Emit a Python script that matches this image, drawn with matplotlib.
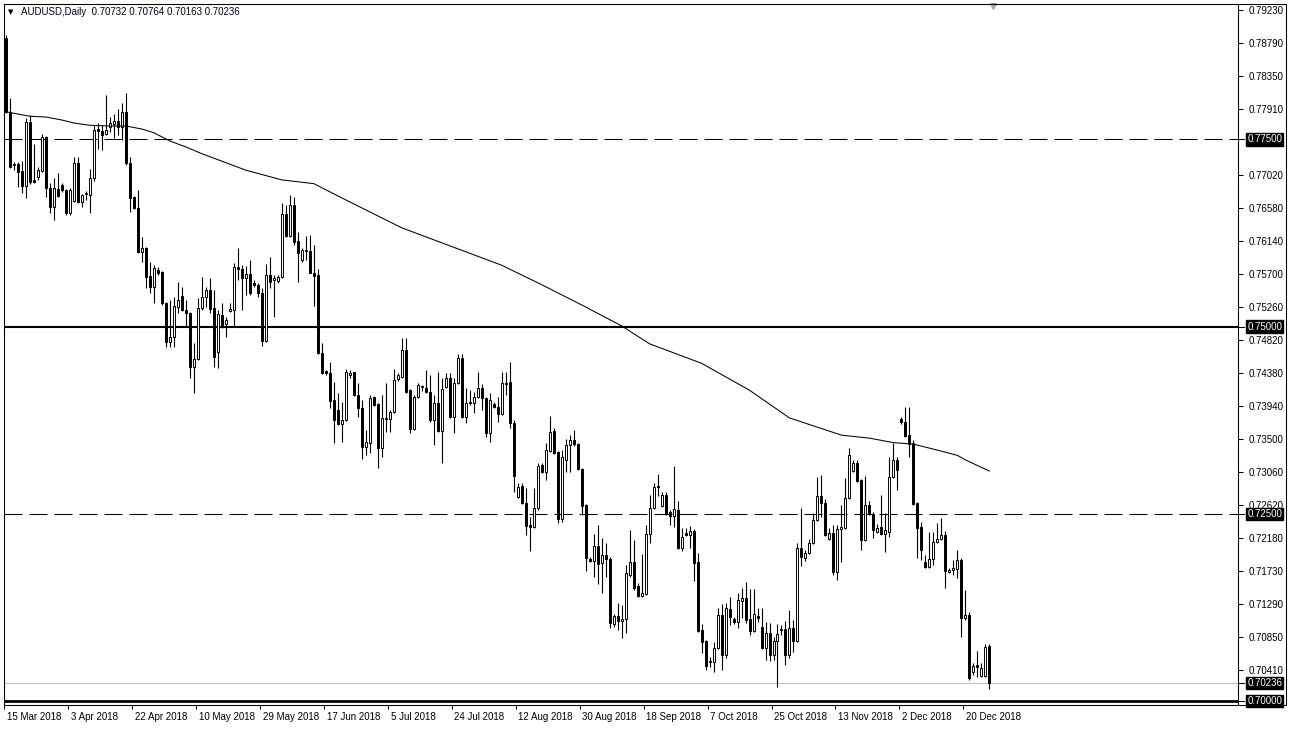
import matplotlib.pyplot as plt
import matplotlib.transforms as mtransforms
from matplotlib.patches import Rectangle

plt.rcParams['font.family'] = ['Liberation Sans', 'DejaVu Sans']
plt.rcParams['lines.scale_dashes'] = False

symbol = "AUDUSD,Daily"

# daily candles, 15 Mar 2018 onwards (one per bar, Sunday bars included)
opens = [
    0.7886, 0.7787, 0.7717, 0.7717, 0.7708, 0.7688, 0.7773, 0.7696, 0.7700, 0.7708,
    0.7753, 0.7685, 0.7660, 0.7684, 0.7689, 0.7683, 0.7652, 0.7668, 0.7719, 0.7666,
    0.7677, 0.7676, 0.7699, 0.7764, 0.7761, 0.7757, 0.7767, 0.7771, 0.7775, 0.7767,
    0.7787, 0.7719, 0.7673, 0.7659, 0.7600, 0.7605, 0.7568, 0.7553, 0.7576, 0.7573,
    0.7532, 0.7480, 0.7486, 0.7526, 0.7541, 0.7522, 0.7518, 0.7446, 0.7457, 0.7525,
    0.7540, 0.7549, 0.7525, 0.7466, 0.7516, 0.7504, 0.7521, 0.7522, 0.7580, 0.7577,
    0.7565, 0.7570, 0.7558, 0.7556, 0.7545, 0.7481, 0.7569, 0.7562, 0.7561, 0.7566,
    0.7650, 0.7621, 0.7662, 0.7614, 0.7589, 0.7602, 0.7601, 0.7572, 0.7569, 0.7465,
    0.7441, 0.7438, 0.7402, 0.7389, 0.7370, 0.7375, 0.7435, 0.7439, 0.7409, 0.7391,
    0.7339, 0.7345, 0.7406, 0.7397, 0.7338, 0.7377, 0.7377, 0.7386, 0.7430, 0.7433,
    0.7469, 0.7415, 0.7363, 0.7406, 0.7419, 0.7418, 0.7413, 0.7375, 0.7398, 0.7361,
    0.7419, 0.7431, 0.7379, 0.7425, 0.7458, 0.7379, 0.7398, 0.7398, 0.7406, 0.7418,
    0.7405, 0.7358, 0.7397, 0.7393, 0.7383, 0.7423, 0.7426, 0.7371, 0.7272, 0.7287,
    0.7264, 0.7235, 0.7232, 0.7258, 0.7315, 0.7306, 0.7334, 0.7361, 0.7333, 0.7243,
    0.7322, 0.7342, 0.7349, 0.7343, 0.7310, 0.7262, 0.7190, 0.7187, 0.7207, 0.7184,
    0.7195, 0.7190, 0.7103, 0.7113, 0.7107, 0.7109, 0.7168, 0.7186, 0.7153, 0.7140,
    0.7143, 0.7223, 0.7258, 0.7287, 0.7260, 0.7275, 0.7252, 0.7247, 0.7255, 0.7204,
    0.7224, 0.7222, 0.7227, 0.7186, 0.7095, 0.7080, 0.7052, 0.7052, 0.7071, 0.7115,
    0.7061, 0.7123, 0.7109, 0.7105, 0.7133, 0.7138, 0.7109, 0.7093, 0.7113, 0.7099,
    0.7071, 0.7091, 0.7061, 0.7080, 0.7095, 0.7096, 0.7061, 0.7097, 0.7080, 0.7204,
    0.7191, 0.7198, 0.7211, 0.7242, 0.7274, 0.7264, 0.7216, 0.7224, 0.7172, 0.7230,
    0.7231, 0.7271, 0.7307, 0.7318, 0.7295, 0.7215, 0.7262, 0.7250, 0.7226, 0.7232,
    0.7223, 0.7226, 0.7299, 0.7322, 0.7377, 0.7373, 0.7355, 0.7345, 0.7264, 0.7232,
    0.7186, 0.7179, 0.7190, 0.7212, 0.7216, 0.7222, 0.7172, 0.7175, 0.7176, 0.7188,
    0.7111, 0.7115, 0.7039, 0.7048, 0.7033, 0.7033, 0.70732,
]
highs = [
    0.7890, 0.7805, 0.7720, 0.7720, 0.7721, 0.7779, 0.7783, 0.7744, 0.7713, 0.7757,
    0.7755, 0.7692, 0.7699, 0.7705, 0.7692, 0.7684, 0.7685, 0.7727, 0.7727, 0.7677,
    0.7681, 0.7711, 0.7769, 0.7772, 0.7769, 0.7810, 0.7780, 0.7784, 0.7791, 0.7799,
    0.7812, 0.7727, 0.7674, 0.7683, 0.7620, 0.7606, 0.7586, 0.7582, 0.7580, 0.7574,
    0.7533, 0.7536, 0.7540, 0.7560, 0.7553, 0.7536, 0.7519, 0.7478, 0.7538, 0.7566,
    0.7553, 0.7565, 0.7549, 0.7522, 0.7532, 0.7513, 0.7532, 0.7585, 0.7605, 0.7582,
    0.7581, 0.7589, 0.7562, 0.7558, 0.7552, 0.7584, 0.7593, 0.7569, 0.7569, 0.7665,
    0.7662, 0.7676, 0.7673, 0.7626, 0.7605, 0.7621, 0.7622, 0.7609, 0.7577, 0.7478,
    0.7442, 0.7453, 0.7426, 0.7411, 0.7399, 0.7443, 0.7442, 0.7440, 0.7425, 0.7402,
    0.7362, 0.7409, 0.7407, 0.7398, 0.7409, 0.7425, 0.7389, 0.7443, 0.7438, 0.7485,
    0.7485, 0.7416, 0.7409, 0.7425, 0.7422, 0.7442, 0.7435, 0.7409, 0.7439, 0.7431,
    0.7438, 0.7438, 0.7431, 0.7463, 0.7463, 0.7418, 0.7415, 0.7413, 0.7439, 0.7423,
    0.7406, 0.7411, 0.7399, 0.7406, 0.7439, 0.7439, 0.7453, 0.7375, 0.7291, 0.7291,
    0.7284, 0.7246, 0.7284, 0.7318, 0.7318, 0.7345, 0.7381, 0.7365, 0.7334, 0.7335,
    0.7350, 0.7355, 0.7362, 0.7345, 0.7311, 0.7263, 0.7192, 0.7223, 0.7235, 0.7218,
    0.7211, 0.7192, 0.7116, 0.7131, 0.7128, 0.7182, 0.7228, 0.7215, 0.7157, 0.7196,
    0.7235, 0.7275, 0.7291, 0.7303, 0.7279, 0.7279, 0.7255, 0.7314, 0.7267, 0.7231,
    0.7231, 0.7234, 0.7230, 0.7198, 0.7103, 0.7081, 0.7059, 0.7079, 0.7124, 0.7129,
    0.7131, 0.7139, 0.7112, 0.7144, 0.7151, 0.7159, 0.7150, 0.7150, 0.7124, 0.7124,
    0.7105, 0.7104, 0.7085, 0.7103, 0.7101, 0.7107, 0.7121, 0.7108, 0.7211, 0.7258,
    0.7202, 0.7216, 0.7251, 0.7299, 0.7302, 0.7270, 0.7231, 0.7235, 0.7235, 0.7262,
    0.7298, 0.7338, 0.7322, 0.7322, 0.7297, 0.7300, 0.7267, 0.7252, 0.7236, 0.7275,
    0.7251, 0.7326, 0.7345, 0.7326, 0.7379, 0.7393, 0.7393, 0.7349, 0.7266, 0.7239,
    0.7195, 0.7226, 0.7226, 0.7238, 0.7244, 0.7227, 0.7178, 0.7188, 0.7202, 0.7191,
    0.7148, 0.7119, 0.7051, 0.7067, 0.7051, 0.7076, 0.70764,
]
lows = [
    0.7785, 0.7712, 0.7709, 0.7687, 0.7679, 0.7672, 0.7691, 0.7692, 0.7696, 0.7707,
    0.7673, 0.7652, 0.7642, 0.7673, 0.7680, 0.7649, 0.7649, 0.7666, 0.7665, 0.7660,
    0.7669, 0.7652, 0.7695, 0.7737, 0.7736, 0.7756, 0.7760, 0.7752, 0.7756, 0.7749,
    0.7716, 0.7653, 0.7657, 0.7598, 0.7586, 0.7552, 0.7545, 0.7532, 0.7569, 0.7529,
    0.7473, 0.7473, 0.7473, 0.7518, 0.7521, 0.7500, 0.7431, 0.7411, 0.7455, 0.7522,
    0.7526, 0.7518, 0.7446, 0.7445, 0.7498, 0.7486, 0.7520, 0.7500, 0.7562, 0.7522,
    0.7542, 0.7542, 0.7553, 0.7540, 0.7474, 0.7480, 0.7552, 0.7513, 0.7558, 0.7565,
    0.7620, 0.7620, 0.7609, 0.7560, 0.7586, 0.7589, 0.7571, 0.7528, 0.7463, 0.7437,
    0.7435, 0.7391, 0.7345, 0.7369, 0.7346, 0.7374, 0.7431, 0.7407, 0.7379, 0.7323,
    0.7329, 0.7331, 0.7394, 0.7311, 0.7326, 0.7359, 0.7359, 0.7385, 0.7428, 0.7431,
    0.7411, 0.7358, 0.7362, 0.7405, 0.7414, 0.7411, 0.7373, 0.7342, 0.7359, 0.7318,
    0.7418, 0.7378, 0.7358, 0.7423, 0.7378, 0.7371, 0.7395, 0.7385, 0.7405, 0.7389,
    0.7353, 0.7346, 0.7391, 0.7373, 0.7382, 0.7409, 0.7365, 0.7279, 0.7271, 0.7263,
    0.7222, 0.7200, 0.7231, 0.7255, 0.7305, 0.7295, 0.7333, 0.7330, 0.7238, 0.7239,
    0.7306, 0.7306, 0.7341, 0.7309, 0.7248, 0.7173, 0.7186, 0.7165, 0.7156, 0.7144,
    0.7165, 0.7097, 0.7099, 0.7095, 0.7084, 0.7091, 0.7165, 0.7148, 0.7139, 0.7139,
    0.7141, 0.7211, 0.7256, 0.7274, 0.7259, 0.7248, 0.7235, 0.7232, 0.7203, 0.7200,
    0.7220, 0.7204, 0.7160, 0.7092, 0.7064, 0.7041, 0.7045, 0.7039, 0.7069, 0.7041,
    0.7057, 0.7101, 0.7103, 0.7097, 0.7111, 0.7104, 0.7088, 0.7092, 0.7105, 0.7069,
    0.7055, 0.7053, 0.7055, 0.7019, 0.7088, 0.7048, 0.7057, 0.7065, 0.7079, 0.7180,
    0.7187, 0.7196, 0.7210, 0.7240, 0.7246, 0.7220, 0.7215, 0.7168, 0.7162, 0.7186,
    0.7230, 0.7270, 0.7306, 0.7293, 0.7202, 0.7214, 0.7248, 0.7218, 0.7224, 0.7222,
    0.7199, 0.7219, 0.7298, 0.7282, 0.7370, 0.7353, 0.7326, 0.7262, 0.7191, 0.7188,
    0.7178, 0.7178, 0.7182, 0.7211, 0.7215, 0.7151, 0.7171, 0.7168, 0.7164, 0.7085,
    0.7108, 0.7028, 0.7035, 0.7032, 0.7032, 0.7032, 0.70163,
]
closes = [
    0.7787, 0.7713, 0.7716, 0.7707, 0.7688, 0.7773, 0.7693, 0.7693, 0.7709, 0.7753,
    0.7685, 0.7660, 0.7685, 0.7675, 0.7683, 0.7652, 0.7683, 0.7719, 0.7666, 0.7676,
    0.7679, 0.7699, 0.7763, 0.7761, 0.7756, 0.7763, 0.7772, 0.7775, 0.7767, 0.7787,
    0.7719, 0.7672, 0.7659, 0.7600, 0.7605, 0.7566, 0.7553, 0.7578, 0.7572, 0.7532,
    0.7480, 0.7486, 0.7528, 0.7536, 0.7522, 0.7518, 0.7446, 0.7457, 0.7525, 0.7540,
    0.7549, 0.7524, 0.7459, 0.7517, 0.7502, 0.7509, 0.7524, 0.7580, 0.7577, 0.7565,
    0.7570, 0.7545, 0.7556, 0.7545, 0.7481, 0.7569, 0.7560, 0.7565, 0.7566, 0.7650,
    0.7621, 0.7662, 0.7613, 0.7598, 0.7602, 0.7601, 0.7572, 0.7568, 0.7465, 0.7438,
    0.7438, 0.7401, 0.7375, 0.7370, 0.7375, 0.7439, 0.7438, 0.7409, 0.7391, 0.7339,
    0.7346, 0.7405, 0.7395, 0.7338, 0.7378, 0.7378, 0.7386, 0.7429, 0.7435, 0.7469,
    0.7413, 0.7363, 0.7406, 0.7422, 0.7420, 0.7413, 0.7375, 0.7398, 0.7361, 0.7417,
    0.7431, 0.7379, 0.7425, 0.7458, 0.7379, 0.7398, 0.7399, 0.7406, 0.7418, 0.7405,
    0.7358, 0.7402, 0.7393, 0.7383, 0.7425, 0.7425, 0.7371, 0.7300, 0.7286, 0.7264,
    0.7234, 0.7232, 0.7258, 0.7314, 0.7306, 0.7335, 0.7359, 0.7331, 0.7243, 0.7326,
    0.7342, 0.7349, 0.7343, 0.7310, 0.7260, 0.7191, 0.7187, 0.7207, 0.7183, 0.7195,
    0.7190, 0.7104, 0.7113, 0.7107, 0.7109, 0.7171, 0.7186, 0.7151, 0.7140, 0.7144,
    0.7223, 0.7258, 0.7286, 0.7286, 0.7275, 0.7250, 0.7247, 0.7256, 0.7204, 0.7219,
    0.7222, 0.7227, 0.7184, 0.7093, 0.7079, 0.7047, 0.7053, 0.7071, 0.7115, 0.7061,
    0.7124, 0.7112, 0.7105, 0.7135, 0.7138, 0.7108, 0.7093, 0.7116, 0.7111, 0.7071,
    0.7091, 0.7061, 0.7080, 0.7089, 0.7096, 0.7061, 0.7097, 0.7080, 0.7204, 0.7192,
    0.7198, 0.7211, 0.7242, 0.7274, 0.7264, 0.7222, 0.7224, 0.7172, 0.7230, 0.7232,
    0.7271, 0.7329, 0.7318, 0.7294, 0.7215, 0.7262, 0.7250, 0.7228, 0.7231, 0.7223,
    0.7228, 0.7299, 0.7322, 0.7309, 0.7373, 0.7354, 0.7343, 0.7263, 0.7231, 0.7202,
    0.7179, 0.7190, 0.7212, 0.7216, 0.7222, 0.7174, 0.7175, 0.7178, 0.7188, 0.7111,
    0.7115, 0.7031, 0.7047, 0.7045, 0.7044, 0.7072, 0.70236,
]

ma_bar = [0, 6, 10, 14, 17, 21, 26, 30, 34, 37, 41, 45, 49, 54, 57, 60, 69, 77, 84, 90,
          99, 111, 124, 134, 144, 154, 161, 174, 186, 196, 209, 216, 222, 227, 233, 238,
          240, 246]
ma_value = [0.7787, 0.7781, 0.7780, 0.7776, 0.7772, 0.7769, 0.7768, 0.7768, 0.7764, 0.7759,
            0.7748, 0.7740, 0.7731, 0.7721, 0.7715, 0.7709, 0.7696, 0.7691, 0.7672, 0.7656,
            0.7632, 0.7608, 0.7582, 0.7556, 0.7529, 0.7501, 0.7477, 0.7451, 0.7415, 0.7378,
            0.7355, 0.7351, 0.7345, 0.7343, 0.7335, 0.7328, 0.7322, 0.7307]

date_labels = ["15 Mar 2018", "3 Apr 2018", "22 Apr 2018", "10 May 2018", "29 May 2018",
               "17 Jun 2018", "5 Jul 2018", "24 Jul 2018", "12 Aug 2018", "30 Aug 2018",
               "18 Sep 2018", "7 Oct 2018", "25 Oct 2018", "13 Nov 2018", "2 Dec 2018",
               "20 Dec 2018"]
label_step = 16

price_ticks = [0.79230, 0.78790, 0.78350, 0.77910, 0.77020, 0.76580, 0.76140, 0.75700,
               0.75260, 0.74820, 0.74380, 0.73940, 0.73500, 0.73060, 0.72620, 0.72180,
               0.71730, 0.71290, 0.70850, 0.70410]

dashed_levels = [0.7750, 0.7250]
solid_levels = [0.7500, 0.7000]
last_price = closes[-1]

fig = plt.figure(figsize=(12.9, 7.29), dpi=100)
ax = fig.add_axes([4 / 1290, 1 - 705 / 729, 1234 / 1290, 701 / 729])

xs = list(range(len(opens)))

# horizontal levels
for lv in dashed_levels:
    ax.axhline(lv, color='black', linewidth=0.75, dashes=(13, 5), zorder=1)
ax.axhline(solid_levels[0], color='black', linewidth=1.5, zorder=1)
ax.axhline(solid_levels[1], color='black', linewidth=2.0, zorder=1)
ax.axhline(last_price, color='#c0c0c0', linewidth=0.75, zorder=1)

# candles
ax.vlines(xs, lows, highs, color='black', linewidth=0.8, zorder=2)
bottoms = [min(o, c) for o, c in zip(opens, closes)]
heights = [abs(c - o) for o, c in zip(opens, closes)]
colors = ['white' if c >= o else 'black' for o, c in zip(opens, closes)]
ax.bar(xs, heights, bottom=bottoms, width=0.5, color=colors, edgecolor='black',
       linewidth=0.7, zorder=3)

ax.plot(ma_bar, ma_value, color='black', linewidth=0.75, zorder=4)

ax.set_xlim(-0.33, 308.2)
ax.set_ylim(0.69945, 0.79310)

# price axis on the right
ax.yaxis.tick_right()
ax.set_yticks(price_ticks)
ax.set_yticklabels([f"{p:.5f}" for p in price_ticks])
ax.tick_params(axis='y', length=3.6, width=0.75, pad=4, labelsize=7)

# date axis
tick_pos = [k * label_step - 0.5 for k in range(len(date_labels))]
ax.set_xticks(tick_pos)
ax.set_xticklabels(date_labels)
ax.tick_params(axis='x', length=3, width=0.75, pad=2, labelsize=7)
shift = mtransforms.ScaledTranslation(2 / 72, 0, fig.dpi_scale_trans)
for lab in ax.get_xticklabels():
    lab.set_horizontalalignment('left')
    lab.set_transform(lab.get_transform() + shift)

for sp in ax.spines.values():
    sp.set_linewidth(0.75)

# boxed labels for the levels and the last price
blend = mtransforms.blended_transform_factory(ax.transAxes, ax.transData)
for lv in dashed_levels + solid_levels + [last_price]:
    ax.plot([1.0, 1.005], [lv, lv], transform=blend, color='black', linewidth=0.75,
            clip_on=False)
    ax.text(1.0075, lv, f"{lv:.5f}", transform=blend, ha='left', va='center',
            color='white', fontsize=7, clip_on=False, zorder=6,
            bbox=dict(boxstyle='square,pad=0.12', facecolor='black', edgecolor='black'))

# header
ax.text(0.0057, 0.9886, "\u25bc", transform=ax.transAxes, family='DejaVu Sans',
        fontsize=5, ha='center', va='center')
ax.text(0.0138, 0.9886,
        f"{symbol}  {opens[-1]:.5f} {highs[-1]:.5f} {lows[-1]:.5f} {closes[-1]:.5f}",
        transform=ax.transAxes, fontsize=7, ha='left', va='center', color='#000020')

# chart shift marker at the top
top_blend = mtransforms.blended_transform_factory(ax.transData, ax.transAxes)
ax.plot([len(opens) - 0.1], [0.997], transform=top_blend, marker='v', color='#a8a8a8',
        markersize=5, clip_on=False)

# outer frame around chart and price scale
fig.add_artist(Rectangle((4 / 1290, 1 - 705 / 729), 1282 / 1290, 701 / 729,
                         transform=fig.transFigure, fill=False, edgecolor='black',
                         linewidth=0.75))

fig.savefig("out.png", dpi=100)
